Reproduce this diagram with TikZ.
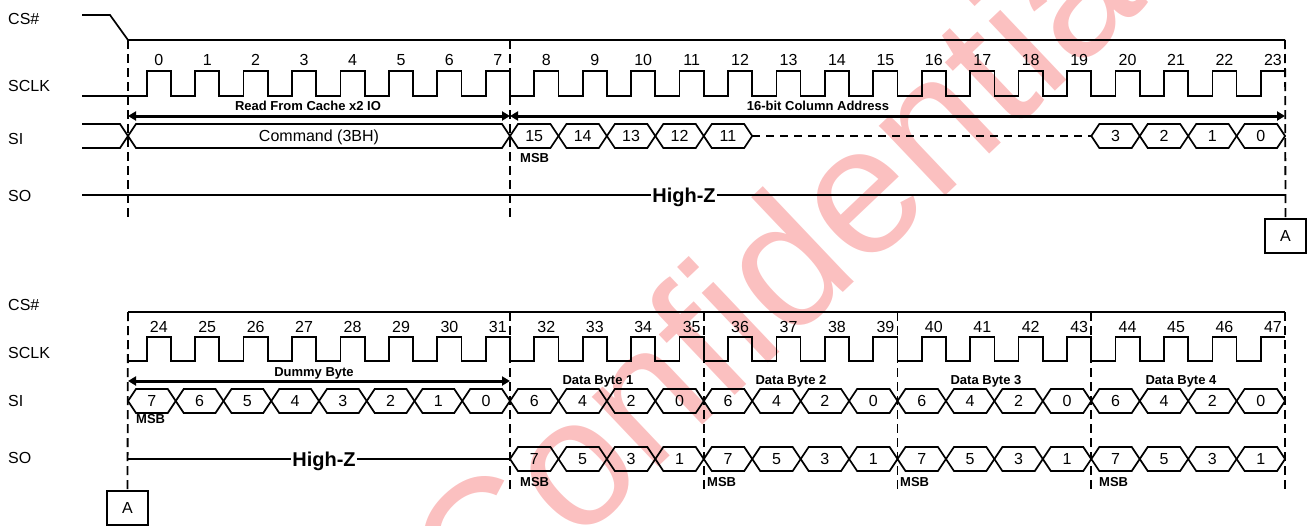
\documentclass[tikz,border=0pt]{standalone}
\usepackage{fontspec}
\setmainfont{Liberation Sans}
\usetikzlibrary{arrows.meta,positioning}
\definecolor{stampred}{RGB}{251,192,192}

\newcommand\busrow[5]{%
  \foreach \v [count=\i from 0] in {#5} {
    \pgfmathsetmacro\xa{#2+\i*#3}
    \pgfmathsetmacro\xb{\xa+#3}
    \draw[wire] (\xa,#4) -- ++(8,-12) -- ({\xb-8},{#4-12}) -- (\xb,#4)
      -- ({\xb-8},{#4+12}) -- ({\xa+8},{#4+12}) -- cycle;
    \node[bit] (#1\i) at ({(\xa+\xb)/2},#4) {\v};
  }}

\begin{document}
\begin{tikzpicture}[x=1pt,y=-1pt,
  >={Triangle[length=8pt,width=9pt]},
  wire/.style={line width=1.7pt,line join=miter},
  guide/.style={line width=1.8pt,dash pattern=on 9pt off 5pt},
  gap/.style={line width=1.5pt,dash pattern=on 8pt off 6pt},
  span/.style={line width=3pt,<->},
  sig/.style={anchor=west,inner sep=2pt,font=\fontsize{16}{18}\selectfont},
  tick/.style={inner sep=0pt,text height=11.5pt,text depth=0pt,font=\fontsize{16}{18}\selectfont},
  bit/.style={tick},
  note/.style={inner sep=0pt,text height=9.5pt,text depth=0pt,font=\bfseries\fontsize{13}{15}\selectfont},
  hiz/.style={inner sep=1pt,text height=14.5pt,text depth=0pt,font=\bfseries\fontsize{20}{22}\selectfont},
  tag/.style={draw,line width=1.3pt,minimum width=41pt,minimum height=34pt,font=\fontsize{16}{18}\selectfont}
]
  \useasboundingbox (0,0) rectangle (1311,525);
  \node[rotate=43.5,text=stampred,font=\fontsize{182}{190}\selectfont] (stamp) at (785,258) {Confidential};

  \node[sig] (cs1) at (6,19) {CS\#};
  \node[sig] (sclk1) at (6,86) {SCLK};
  \node[sig] (si1) at (6,139) {SI};
  \node[sig] (so1) at (6,196) {SO};
  \node[sig] (cs2) at (6,305) {CS\#};
  \node[sig] (sclk2) at (6,353) {SCLK};
  \node[sig] (si2) at (6,401) {SI};
  \node[sig] (so2) at (6,458) {SO};

  \node[tag] (mark1) at (1285.5,236) {A};
  \node[tag] (mark2) at (127.5,508) {A};

  \draw[wire] (82,15) -- (110,15) -- (128,40) -- (1285,40);
  \draw[wire] (128,312) -- (1285,312);

  \foreach \x in {128,510} \draw[guide] (\x,40) -- (\x,218);
  \draw[guide] (1285,40) -- (mark1.north);
  \foreach \x in {510,703.8,897.5,1091.3,1285} \draw[guide] (\x,312) -- (\x,490);
  \draw[guide] (128,312) -- (mark2.north);

  \draw[wire] (82,96) \foreach \k in {0,...,22} {
    -- ({146.7+\k*48.44},96) -- ++(0,-25) -- ++(24.2,0) -- ++(0,25) }
    -- (1261,96) -- (1261,71) -- (1285,71);
  \draw[wire] (128,361) \foreach \k in {0,...,22} {
    -- ({146.7+\k*48.44},361) -- ++(0,-24) -- ++(24.2,0) -- ++(0,24) }
    -- (1261,361) -- (1261,337) -- (1285,337);
  \foreach \k in {0,...,23} \node[tick] (n\k) at ({158.8+\k*48.44},60) {\k};
  \foreach \k in {24,...,47} \node[tick] (n\k) at ({158.8+(\k-24)*48.44},327) {\k};

  \coordinate (r0) at (128,116);
  \coordinate (r1) at (510,116);
  \coordinate (r2) at (1285,116);
  \coordinate (d0) at (128,381);
  \coordinate (d1) at (510,381);
  \draw[span] (r0) -- (r1);
  \draw[span] (r1) -- (r2);
  \draw[span] (d0) -- (d1);
  \node[note] (readlbl) at (308,106) {Read From Cache x2 IO};
  \node[note] (addrlbl) at (818,106) {16-bit Column Address};
  \node[note] (dummylbl) at (314,372) {Dummy Byte};
  \foreach \x/\n in {598/1,791/2,986/3,1181/4}
    \node[note] (byte\n) at (\x,380) {Data Byte \n};

  \draw[wire] (82,124) -- (120,124) -- (128,136) -- (120,148) -- (82,148);
  \busrow{cmd}{128}{382}{136}{{Command (3BH)}}
  \busrow{hi}{510}{48.44}{136}{15,14,13,12,11}
  \draw[gap] (752.2,136) -- (1091.3,136);
  \busrow{lo}{1091.3}{48.44}{136}{3,2,1,0}
  \node[note,anchor=west] (msb0) at (520,158) {MSB};

  \busrow{dm}{128}{47.75}{401}{7,6,5,4,3,2,1,0}
  \foreach \s [count=\j] in {510,703.8,897.5,1091.3} {
    \busrow{in\j-}{\s}{48.44}{401}{6,4,2,0}
    \busrow{out\j-}{\s}{48.44}{459}{7,5,3,1}
  }
  \node[note,anchor=west] (msb1) at (136,419) {MSB};
  \foreach \x [count=\j] in {520,707,900,1099}
    \node[note,anchor=west] (msbo\j) at (\x,482) {MSB};

  \node[hiz] (hz1) at (684,195) {High-Z};
  \draw[wire] (82,195) -- (hz1.west);
  \draw[wire] (hz1.east) -- (1285,195);
  \node[hiz] (hz2) at (324,459) {High-Z};
  \draw[wire] (128,459) -- (hz2.west);
  \draw[wire] (hz2.east) -- (510,459);
\end{tikzpicture}
\end{document}
